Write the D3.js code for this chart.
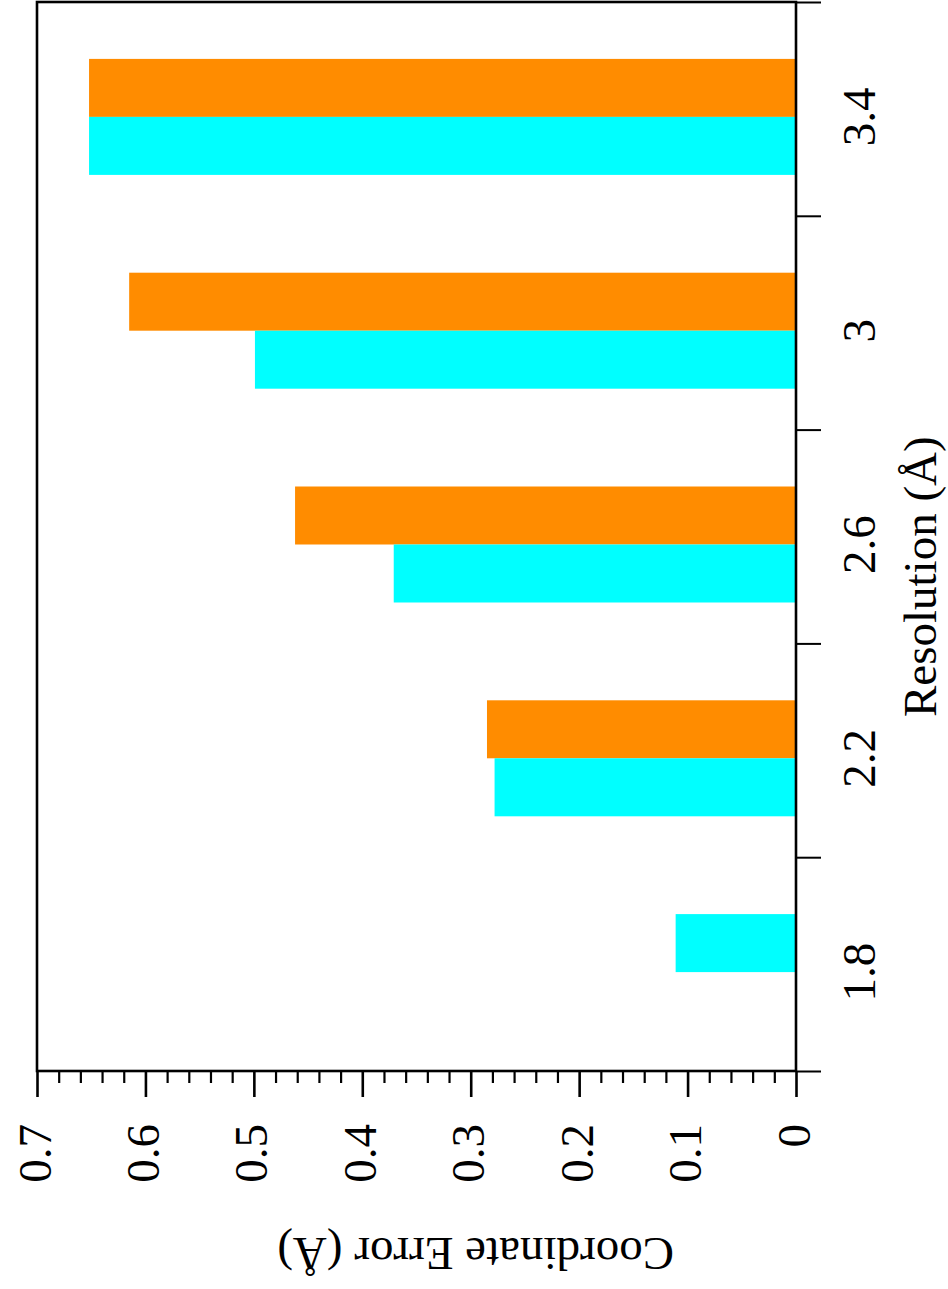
<!DOCTYPE html>
<html>
<head>
<meta charset="utf-8">
<script src="https://cdn.jsdelivr.net/npm/d3@7"></script>
<style>
  html, body { margin: 0; padding: 0; background: #fff; }
  svg { display: block; }
  text { font-family: "Liberation Serif", "DejaVu Serif", serif; fill: #000; }
</style>
</head>
<body>
<svg id="chart" width="948" height="1289"></svg>
<script>
// ---- data ----
const categories = [1.8, 2.2, 2.6, 3.0, 3.4];
const categoryLabels = ["1.8", "2.2", "2.6", "3", "3.4"];
const seriesNames = ["orange", "cyan"];
const cyanValues = [0.111, 0.278, 0.371, 0.499, 0.652];
const orangeValues = [null, 0.285, 0.462, 0.615, 0.652];
const valueTicks = [0, 0.1, 0.2, 0.3, 0.4, 0.5, 0.6, 0.7];
const valueTickLabels = ["0", "0.1", "0.2", "0.3", "0.4", "0.5", "0.6", "0.7"];
const categorySeparators = [1.6, 2.0, 2.4, 2.8, 3.2, 3.6];
const xTitle = "Coordinate Error (Å)";
const yTitle = "Resolution (Å)";

(function () {
// ---- layout ----
const svg = d3.select("#chart");
const pLeft = 37, pRight = 796, pTop = 2, pBottom = 1071;
const fontSize = 47;
const colors = { cyan: "#00FFFF", orange: "#FF8C00" };

const x = d3.scaleLinear().domain([0, 0.7]).range([pRight, pLeft]);
const y = d3.scaleLinear().domain([1.6, 3.6]).range([pBottom, pTop]);
const groupShift = 8;
const slot = d3.scaleBand().domain(seriesNames).range([-58, 58]).padding(0);

const rows = categories.map((c, i) => ({ c, label: categoryLabels[i], cyan: cyanValues[i], orange: orangeValues[i] }));

// bars
const bars = [];
rows.forEach(r => {
  if (r.orange == null) {
    bars.push({ c: r.c, v: r.cyan, color: colors.cyan, slotName: "orange" });
  } else {
    bars.push({ c: r.c, v: r.orange, color: colors.orange, slotName: "orange" });
    bars.push({ c: r.c, v: r.cyan, color: colors.cyan, slotName: "cyan" });
  }
});
svg.append("g").selectAll("rect").data(bars).join("rect")
  .attr("x", d => x(d.v))
  .attr("width", d => x(0) - x(d.v))
  .attr("y", d => y(d.c) + groupShift + slot(d.slotName))
  .attr("height", slot.bandwidth())
  .attr("fill", d => d.color);

// frame
svg.append("rect")
  .attr("x", pLeft).attr("y", pTop)
  .attr("width", pRight - pLeft).attr("height", pBottom - pTop)
  .attr("fill", "none").attr("stroke", "#000").attr("stroke-width", 2.6);

// value axis (bottom)
const minorTicks = d3.range(0, 0.7001, 0.02).filter(v => !valueTicks.some(t => Math.abs(t - v) < 1e-6));
const gx = svg.append("g").attr("transform", `translate(0,${pBottom})`);
gx.append("g").call(d3.axisBottom(x).tickValues(minorTicks).tickSize(12).tickFormat(""))
  .call(g => g.select(".domain").remove())
  .call(g => g.selectAll("line").attr("stroke", "#000").attr("stroke-width", 2.2));
const major = gx.append("g").call(d3.axisBottom(x).tickValues(valueTicks).tickSize(26).tickFormat((d, i) => valueTickLabels[i]))
  .call(g => g.select(".domain").remove());
major.selectAll("line").attr("stroke", "#000").attr("stroke-width", 2.6);
major.selectAll("text")
  .attr("font-size", fontSize)
  .attr("font-family", "Liberation Serif, serif")
  .attr("text-anchor", "end")
  .attr("dy", null)
  .attr("y", null)
  .attr("transform", "translate(13,53) rotate(-90)");

// category axis (right)
const gy = svg.append("g").attr("transform", `translate(${pRight},0)`);
gy.call(d3.axisRight(y).tickValues(categorySeparators).tickSize(25).tickFormat(""))
  .call(g => g.select(".domain").remove())
  .call(g => g.selectAll("line").attr("stroke", "#000").attr("stroke-width", 2));

svg.append("g").selectAll("text").data(rows).join("text")
  .attr("transform", d => `translate(875,${y(d.c) + groupShift}) rotate(-90)`)
  .attr("text-anchor", "middle")
  .attr("font-size", fontSize)
  .text(d => d.label);

// titles
svg.append("text")
  .attr("transform", "translate(936,717) rotate(-90)")
  .attr("text-anchor", "start")
  .attr("font-size", fontSize)
  .text(yTitle);

svg.append("text")
  .attr("transform", "translate(674,1238) rotate(180)")
  .attr("text-anchor", "start")
  .attr("font-size", fontSize)
  .text(xTitle);
})();
</script>
</body>
</html>
